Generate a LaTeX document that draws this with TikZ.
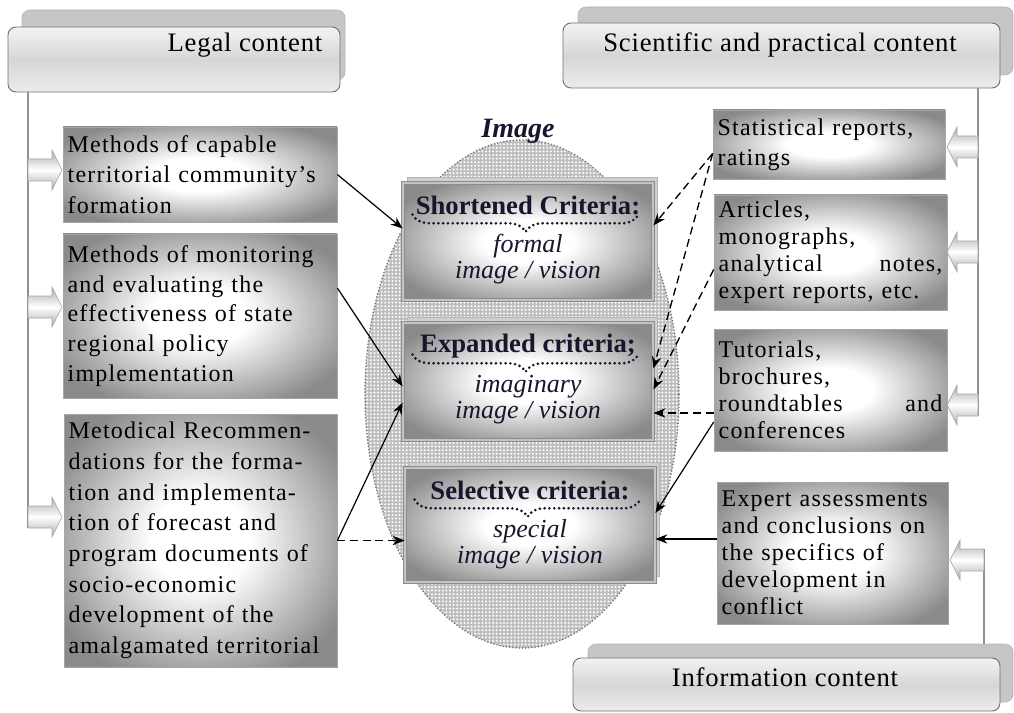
\documentclass[tikz,border=0pt]{standalone}
\usepackage{fontspec}
\setmainfont{Liberation Serif}
\newfontfamily\srcfont[LetterSpace=5]{Liberation Serif}
\newfontfamily\hdrfont[LetterSpace=3]{Liberation Serif}
\usetikzlibrary{calc,patterns,decorations.pathreplacing,arrows.meta,shapes.geometric}

\definecolor{shadowgray}{HTML}{C6C6C6}
\definecolor{shadowline}{HTML}{B4B4B4}
\definecolor{frameline}{HTML}{707070}
\definecolor{hdrtop}{HTML}{F3F3F3}
\definecolor{hdrmid}{HTML}{D6D6D6}
\definecolor{hdrbot}{HTML}{ECECEC}
\definecolor{boxedge}{HTML}{8A8A8A}
\definecolor{boxline}{HTML}{A6A6A6}
\definecolor{critedge}{HTML}{8C8C8C}
\definecolor{critdouble}{HTML}{C4C4C4}
\definecolor{critshade}{HTML}{D0D0D0}
\definecolor{ink}{HTML}{16162C}
\definecolor{railgray}{HTML}{909090}
\definecolor{ovalfill}{HTML}{BEBEBE}
\definecolor{ovalline}{HTML}{7A7A7A}
\definecolor{arrowgray}{HTML}{ABABAB}

% soft white glow used inside the grey boxes
\pgfdeclareradialshading{glow}{\pgfpoint{0bp}{0bp}}{%
  color(0bp)=(white); color(9bp)=(white); color(30bp)=(boxedge); color(50bp)=(boxedge)}
% white dots on the grey oval
\pgfdeclarepatternformonly{whitedots}{\pgfqpoint{-1pt}{-1pt}}{\pgfqpoint{1pt}{1pt}}%
  {\pgfqpoint{2.7pt}{2.7pt}}{\pgfpathcircle{\pgfqpoint{0pt}{0pt}}{0.85pt}\pgfusepath{fill}}

\begin{document}
\begin{tikzpicture}[x=0.75pt,y=-0.75pt,
  rect/.style n args={4}{minimum width={(#3-#1)*0.75pt},
    minimum height={(#4-#2)*0.75pt}, at={({(#1+#3)/2},{(#2+#4)/2})}},
  srect/.style n args={4}{rect={#1}{#2}{#3}{#4}, text width={(#3-#1)*0.75pt-7pt}},
  hdrshadow/.style={fill=shadowgray, draw=shadowline, line width=0.5pt, rounded corners=6pt},
  hdrbox/.style={draw=frameline, line width=0.7pt, rounded corners=6pt,
    top color=hdrtop, bottom color=hdrbot, middle color=hdrmid, inner sep=0pt},
  hdrtext/.style={font=\hdrfont\fontsize{20}{24}\selectfont, text=black, inner sep=0pt},
  srcbox/.style={draw=boxline, line width=0.5pt, shading=glow,
    inner sep=3pt, align=left, text=black},
  lfont/.style={font=\srcfont\fontsize{18}{23}\selectfont},
  rfont/.style={font=\srcfont\fontsize{18}{20.3}\selectfont},
  critshadow/.style={fill=critshade, draw=shadowline, line width=0.5pt},
  critbox/.style={draw=critedge, double=critdouble, double distance=2pt, line width=0.6pt,
    shading=glow, inner sep=0pt},
  crittitle/.style={font=\bfseries\fontsize{20}{24}\selectfont, text=ink, inner sep=0pt},
  critsub/.style={font=\itshape\fontsize{19.5}{23}\selectfont, text=ink, inner sep=0pt},
  critbrace/.style={decorate, decoration={brace, mirror, amplitude=13pt}, draw=ink,
    line width=2.2pt, dash pattern=on 0pt off 3.6pt, line cap=round},
  conn/.style={draw=black, line width=0.9pt, -{Stealth[length=9pt,width=7pt]}},
  dconn/.style={conn, line width=1pt, dash pattern=on 6pt off 3.5pt},
  rail/.style={draw=railgray, line width=1pt},
  blockarrow/.style={draw=boxline, line width=0.5pt, top color=arrowgray,
    bottom color=arrowgray, middle color=white},
  pics/blockright/.style={code={\path[blockarrow] (0,-11) -- ({#1-10},-11) -- ({#1-10},-20)
    -- (#1,0) -- ({#1-10},20) -- ({#1-10},11) -- (0,11) -- cycle;}},
  pics/blockleft/.style={code={\path[blockarrow] (0,-11) -- ({-#1+10},-11) -- ({-#1+10},-20)
    -- (-#1,0) -- ({-#1+10},20) -- ({-#1+10},11) -- (0,11) -- cycle;}},
]
\useasboundingbox (0,0) rectangle (1014,713);

% central oval with the criteria
\node[ellipse, minimum width={314*0.75pt}, minimum height={508*0.75pt}, inner sep=0pt,
  preaction={fill=ovalfill}, pattern=whitedots, pattern color=white,
  draw=ovalline, line width=1.4pt, dash pattern=on 0pt off 2.4pt, line cap=round]
  (oval) at (522,394) {};
\node[font=\bfseries\itshape\fontsize{21}{24}\selectfont, text=ink, inner sep=0pt]
  (imagetitle) at (518,131) {Image};

% side rails
\coordinate (la1) at (28,170);
\coordinate (la2) at (28,307);
\coordinate (la3) at (28,517);
\coordinate (ra1) at (978,147);
\coordinate (ra2) at (978,252);
\coordinate (ra3) at (978,405);
\coordinate (ia) at (984,560);

% header boxes
\path[hdrshadow] (22,10) rectangle (345,80);
\node[hdrbox, rect={8}{27}{340}{92}] (legal) {};
\node[hdrtext] (legaltxt) at (245,45) {Legal content};

\path[hdrshadow] (578,7) rectangle (1013,75);
\node[hdrbox, rect={563}{23}{1000}{88}] (sci) {};
\node[hdrtext] (scitxt) at (780,45) {Scientific and practical content};

\draw[rail] ($(ia)+(0,-11)$) -- (ia |- 0,644);
\path[hdrshadow] (588,644) rectangle (1013,702);
\node[hdrbox, rect={573}{658}{1000}{711}] (info) {};
\node[hdrtext] (infotxt) at (785,677) {Information content};

\draw[rail] (legal.south -| la1) -- ($(la3)+(0,11)$);
\draw[rail] (sci.south -| ra1) -- ($(ra3)+(0,11)$);
\pic at (la1) {blockright=34};
\pic at (la2) {blockright=34};
\pic at (la3) {blockright=34};
\pic at (ra1) {blockleft=31};
\pic at (ra2) {blockleft=31};
\pic at (ra3) {blockleft=31};
\pic at (ia) {blockleft=34};

% legal sources
\node[srcbox, lfont, srect={63}{127}{337}{222}] (l1)
  {Methods of capable\\territorial community’s\\formation};
\node[srcbox, srect={63}{234}{337}{398}, font=\srcfont\fontsize{18}{22.3}\selectfont] (l2)
  {Methods of monitoring\\and evaluating the\\effectiveness of state\\regional policy\\implementation};
\node[srcbox, lfont, srect={64}{414}{337}{667}] (l3)
  {Metodical Recommen-\\dations for the forma-\\tion and implementa-\\tion of forecast and\\program documents of\\socio-economic\\development of the\\amalgamated territorial};

% scientific and information sources
\node[srcbox, srect={713}{110}{945}{179}, font=\srcfont\fontsize{18}{22.5}\selectfont] (r1)
  {Statistical reports,\\ratings};
\node[srcbox, rfont, srect={714}{195}{947}{310}] (r2)
  {Articles,\\monographs,\\analytical\hfill notes,\\expert reports, etc.};
\node[srcbox, rfont, srect={714}{329}{947}{451}] (r3)
  {Tutorials,\\brochures,\\roundtables\hfill and\\conferences};
\node[srcbox, rfont, srect={717}{482}{948}{624}] (r4)
  {Expert assessments\\and conclusions on\\the specifics of\\development in\\conflict};

% criteria boxes
\path[critshadow] (407,177) rectangle (657,294);
\node[critbox, rect={403}{183}{653}{300}] (c1) {};
\path[critshadow] (407,317) rectangle (657,434);
\node[critbox, rect={403}{323}{653}{440}] (c2) {};
\path[critshadow] (409,462) rectangle (659,576);
\node[critbox, rect={405}{468}{655}{582}] (c3) {};

\foreach \c/\t/\s in {c1/{Shortened Criteria:}/formal, c2/{Expanded criteria;}/imaginary,
  c3/{Selective criteria:}/special}{
  \node[crittitle] at ($(\c.north)+(0,23)$) {\t};
  \draw[critbrace] ($(\c.north west)+(10,32)$) -- ($(\c.north east)+(-15,32)$);
  \node[critsub] at ($(\c.north)+(0,64)$) {\s};
  \node[critsub] at ($(\c.north)+(0,90)$) {image / vision};
}

% connectors
\coordinate (l2o) at ($(l2.east)+(0,-28)$);
\coordinate (r1o) at ($(r1.west)+(0,9)$);
\coordinate (r2o) at ($(r2.west)+(0,17)$);
\coordinate (r3d) at ($(r3.west)+(0,23)$);
\coordinate (r3s) at ($(r3.west)+(0,32)$);
\coordinate (r4o) at ($(r4.west)+(0,-14)$);
\draw[conn] (l1.east) -- ($(c1.west)+(0,-13)$);
\draw[conn] (l2o) -- ($(c2.west)+(0,5)$);
\draw[conn] (l3.east) -- ($(c2.west)+(0,21)$);
\draw[dconn] (l3.east) -- (l3.east -| c3.west);
\draw[dconn] (r1o) -- ($(c1.east)+(0,-16)$);
\draw[dconn] (r1o) -- ($(c2.east)+(0,-13)$);
\draw[dconn] (r2o) -- ($(c2.east)+(0,8)$);
\draw[dconn] (r3d) -- (r3d -| c2.east);
\draw[conn] (r3s) -- ($(c3.east)+(0,-12)$);
\draw[conn] (r4o) -- (r4o -| c3.east);
\end{tikzpicture}
\end{document}
